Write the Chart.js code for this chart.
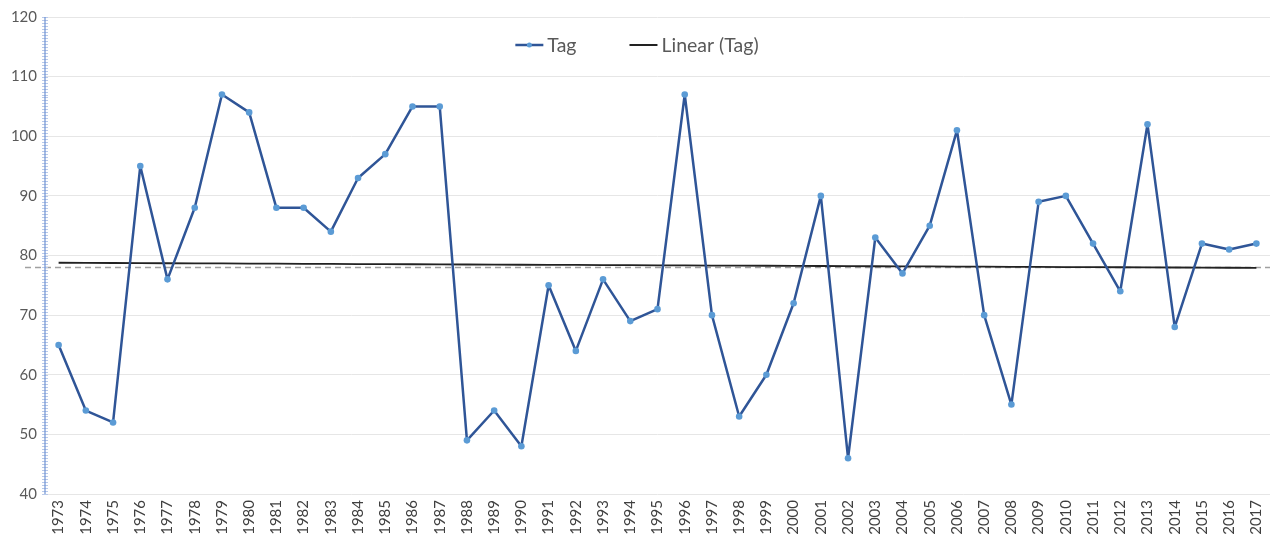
<!DOCTYPE html>
<html>
<head>
<meta charset="utf-8">
<script src="https://cdn.jsdelivr.net/npm/chart.js@4/dist/chart.umd.min.js"></script>
<style>
  html, body { margin: 0; padding: 0; background: #fff; }
  #wrap { width: 1274px; height: 547px; }
</style>
</head>
<body>
<div id="wrap"><canvas id="c"></canvas></div>
<script>
// data
const years = ['1973','1974','1975','1976','1977','1978','1979','1980','1981','1982',
  '1983','1984','1985','1986','1987','1988','1989','1990','1991','1992',
  '1993','1994','1995','1996','1997','1998','1999','2000','2001','2002',
  '2003','2004','2005','2006','2007','2008','2009','2010','2011','2012',
  '2013','2014','2015','2016','2017'];
const tagValues = [65, 54, 52, 95, 76, 88, 107, 104, 88, 88,
  84, 93, 97, 105, 105, 49, 54, 48, 75, 64,
  76, 69, 71, 107, 70, 53, 60, 72, 90, 46,
  83, 77, 85, 101, 70, 55, 89, 90, 82, 74,
  102, 68, 82, 81, 82];
const yTicks = [40, 50, 60, 70, 80, 90, 100, 110, 120];
const dashedRef = 78; // grey dashed line behind the trend

// least squares trend of the Tag series
function linearTrend(vals) {
  const n = vals.length;
  let sx = 0, sy = 0, sxy = 0, sxx = 0;
  vals.forEach((v, i) => { sx += i; sy += v; sxy += i * v; sxx += i * i; });
  const b = (n * sxy - sx * sy) / (n * sxx - sx * sx);
  const a = (sy - b * sx) / n;
  return vals.map((v, i) => a + b * i);
}
const trendValues = linearTrend(tagValues);

const TAG_LINE = '#2f5597';
const TAG_DOT = '#5b9bd5';
const TREND = '#222222';

// dashed grey line + the blue "ladder" y axis
const decoPlugin = {
  id: 'deco',
  beforeDatasetsDraw(chart) {
    const { ctx, chartArea, scales } = chart;
    const y = scales.y.getPixelForValue(dashedRef);
    ctx.save();
    ctx.strokeStyle = '#a0a0a0';
    ctx.lineWidth = 1.5;
    ctx.setLineDash([6, 4]);
    ctx.beginPath();
    ctx.moveTo(chartArea.left - 20, y);
    ctx.lineTo(chartArea.right, y);
    ctx.stroke();
    ctx.setLineDash([]);
    // y axis with minor ticks
    const x = chartArea.left;
    ctx.strokeStyle = '#b8c9ea';
    ctx.lineWidth = 1;
    ctx.beginPath();
    for (let v = scales.y.min; v <= scales.y.max; v += 0.5) {
      const py = Math.round(scales.y.getPixelForValue(v)) + 0.5;
      ctx.moveTo(x - 3, py); ctx.lineTo(x + 3, py);
    }
    ctx.stroke();
    ctx.strokeStyle = '#6f93d3';
    ctx.lineWidth = 1.2;
    ctx.beginPath();
    ctx.moveTo(x, chartArea.top); ctx.lineTo(x, chartArea.bottom);
    ctx.stroke();
    ctx.restore();
  }
};

// legend drawn inside the plot, top centre
const legendPlugin = {
  id: 'innerLegend',
  afterDatasetsDraw(chart) {
    const { ctx, chartArea } = chart;
    const items = chart.data.datasets.map(ds => ds.label);
    ctx.save();
    ctx.font = '19.5px Lato, "Open Sans", sans-serif';
    const markW = 28, gapText = 4, gapItem = 53;
    const widths = items.map(t => markW + gapText + ctx.measureText(t).width);
    const total = widths.reduce((a, b) => a + b, 0) + gapItem * (items.length - 1);
    let x = (chart.width - total) / 2;
    const y = chartArea.top + 28;
    items.forEach((t, i) => {
      const ds = chart.data.datasets[i];
      ctx.strokeStyle = ds.borderColor;
      ctx.lineWidth = i === 0 ? 2.5 : 2;
      ctx.beginPath(); ctx.moveTo(x, y); ctx.lineTo(x + markW, y); ctx.stroke();
      if (i === 0) {
        ctx.fillStyle = TAG_DOT;
        ctx.beginPath(); ctx.arc(x + markW / 2, y, 2.5, 0, Math.PI * 2); ctx.fill();
      }
      ctx.fillStyle = '#595959';
      ctx.textBaseline = 'middle';
      ctx.fillText(t, x + markW + gapText, y + 1);
      x += widths[i] + gapItem;
    });
    ctx.restore();
  }
};

Chart.defaults.font.family = 'Lato, "Open Sans", sans-serif';
Chart.defaults.color = '#595959';

new Chart(document.getElementById('c'), {
  type: 'line',
  data: {
    labels: years,
    datasets: [
      {
        label: 'Tag',
        data: tagValues,
        borderColor: TAG_LINE,
        borderWidth: 2.5,
        borderJoinStyle: 'round',
        pointRadius: 3.3,
        pointBackgroundColor: TAG_DOT,
        pointBorderColor: TAG_DOT,
        pointBorderWidth: 0,
        tension: 0,
        order: 1
      },
      {
        label: 'Linear (Tag)',
        data: trendValues,
        borderColor: TREND,
        borderWidth: 1.8,
        pointRadius: 0,
        order: 2
      }
    ]
  },
  options: {
    responsive: true,
    maintainAspectRatio: false,
    animation: false,
    layout: { padding: { top: 16, right: 0, left: 0, bottom: 0 } },
    plugins: {
      title: { display: false },
      tooltip: { enabled: false },
      legend: { display: false }
    },
    scales: {
      x: {
        offset: true,
        grid: { display: false, drawTicks: false },
        border: { display: false },
        ticks: {
          color: '#404040',
          font: { size: 15 },
          maxRotation: 90,
          minRotation: 90,
          autoSkip: false,
          padding: 6
        },
        afterFit(s) { s.height = 53; s.paddingLeft = 0; s.paddingRight = 0; }
      },
      y: {
        min: 40,
        max: 120,
        afterBuildTicks(s) { s.ticks = yTicks.map(v => ({ value: v })); },
        grid: { color: '#e6e6e6', lineWidth: 1, drawTicks: false },
        border: { display: false },
        ticks: {
          color: '#595959',
          font: { size: 15 },
          padding: 8
        },
        afterFit(s) { s.width = 45; }
      }
    }
  },
  plugins: [decoPlugin, legendPlugin]
});
</script>
</body>
</html>
